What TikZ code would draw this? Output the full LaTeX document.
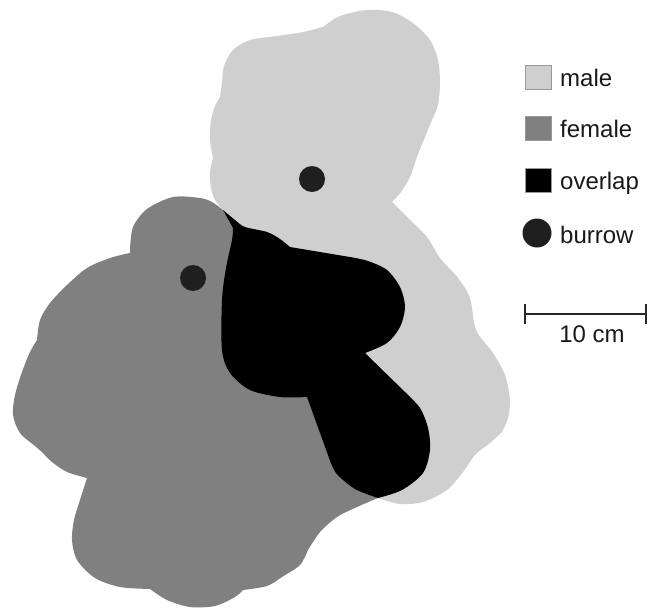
\documentclass[tikz,border=0pt]{standalone}
\usepackage{fontspec}
\setmainfont{Liberation Sans}
\begin{document}
\begin{tikzpicture}[x=1pt, y=-1pt, font=\fontsize{24}{28}\selectfont,
  keybox/.style={draw=black!40, line width=0.6pt, minimum width=26pt, minimum height=24pt, inner sep=0pt},
  keylabel/.style={anchor=base west, inner sep=0pt, text=black!90},
  burrow/.style={circle, fill=black!88, inner sep=0pt, minimum size=#1}]
  \useasboundingbox (0,0) rectangle (650,608);
  % male range
  \fill[black!19] (223,210)
    -- plot[smooth] coordinates {(223,210) (215,200) (211,188) (210,172) (213,158)}
    -- plot[smooth] coordinates {(213,158) (210,140) (211,120) (215,106) (220,97)}
    -- plot[smooth] coordinates {(220,97) (222,83) (224,66) (233,50) (250,40) (277,36) (303,32) (323,27)}
    -- plot[smooth] coordinates {(323,27) (340,16) (367,10) (392,12) (413,23) (430,40) (438,60) (440,83) (438,105) (432,120)}
    -- plot[smooth] coordinates {(432,120) (425,137) (417,157) (410,177) (401,192) (392,202)}
    -- plot[smooth] coordinates {(392,202) (410,220) (427,237) (440,258) (458,278) (470,298) (476,330) (493,353) (505,375) (510,400) (508,418) (502,432)}
    -- plot[smooth] coordinates {(502,432) (490,443) (475,455) (463,472) (447,490) (423,502) (400,504) (378,498)}
    -- (353,485) -- (334,468) -- (328,452) -- (309,400) -- (280,395) -- (250,388) -- (232,372)
    -- (225,350) -- (225,290) -- (229,265) -- (231,240) -- cycle;
  % female range
  \fill[black!50] (223,210)
    -- plot[smooth] coordinates {(223,210) (212,202) (200,198) (173,197) (147,209) (133,227) (130,250)}
    -- plot[smooth] coordinates {(130,253) (110,258) (87,268) (67,285) (50,303) (40,320) (37,340)}
    -- plot[smooth] coordinates {(37,340) (30,352) (22,372) (15,395) (13,415) (20,433) (35,446) (42,452)}
    -- plot[smooth] coordinates {(42,452) (52,462) (67,472) (87,478)}
    -- plot[smooth] coordinates {(87,478) (80,500) (74,520) (72,540) (77,560) (95,578) (120,587) (150,589)}
    -- plot[smooth] coordinates {(150,589) (167,600) (190,607) (215,606) (235,597) (243,590)}
    -- plot[smooth] coordinates {(243,590) (267,586) (282,577) (300,565) (308,550)}
    -- plot[smooth] coordinates {(308,550) (320,532) (337,517) (357,507) (378,498)}
    -- (400,486) -- (420,470) -- (426,450) -- (424,422) -- (410,400) -- (365,353) -- (385,342)
    -- (398,327) -- (402,307) -- (397,288) -- (385,272) -- (362,263) -- (290,250) -- (268,236)
    -- (243,230) -- cycle;
  % overlap
  \fill[black] (223,210)
    -- plot[smooth] coordinates {(223,210) (235,220) (245,227) (267,232) (280,239) (290,247)}
    -- plot[smooth] coordinates {(350,257) (368,261) (387,270) (400,287) (405,307) (400,327) (387,343) (365,353)}
    -- plot[smooth] coordinates {(405,392) (420,408) (428,428) (430,450) (423,473) (402,490) (378,498)}
    -- plot[smooth] coordinates {(378,498) (355,489) (336,473) (328,455)}
    -- plot[smooth] coordinates {(307,397) (280,397) (250,390) (230,373) (222,350) (222,300) (226,268) (232,240) (233,228)}
    -- cycle;
  % burrows
  \node[burrow=26pt] (burrow-m) at (312,179) {};
  \node[burrow=26pt] (burrow-f) at (193,278) {};
  % legend
  \foreach \name/\tone/\y in {male/black!19/77, female/black!50/128, overlap/black/180} {
    \node[keybox, fill=\tone] (key-\name) at (538,\y) {};
    \node[keylabel] (lab-\name) at (560,\y+9.5) {\name};
  }
  \node[burrow=29pt] (key-burrow) at (537,233) {};
  \node[keylabel] (lab-burrow) at (560,243) {burrow};
  % scale bar
  \coordinate (barL) at (525,314);
  \coordinate (barR) at (646,314);
  \draw[line width=1.6pt, black!85] (barL) -- (barR);
  \draw[line width=1.6pt, black!85] ([yshift=10pt]barL) -- ([yshift=-10pt]barL);
  \draw[line width=1.6pt, black!85] ([yshift=10pt]barR) -- ([yshift=-10pt]barR);
  \node[anchor=base, inner sep=0pt, text=black!90] (barlab) at (592,342) {10 cm};
\end{tikzpicture}
\end{document}
